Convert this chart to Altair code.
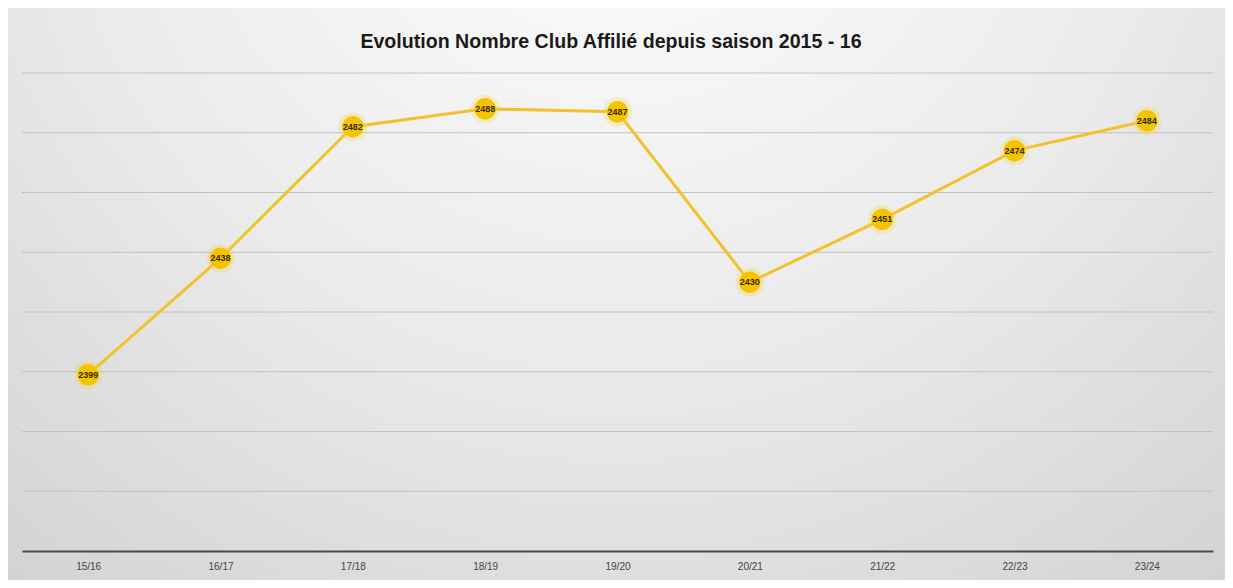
import altair as alt
import pandas as pd

seasons = ["15/16", "16/17", "17/18", "18/19", "19/20", "20/21", "21/22", "22/23", "23/24"]
clubs = [2399, 2438, 2482, 2488, 2487, 2430, 2451, 2474, 2484]
grid_values = [2360, 2380, 2400, 2420, 2440, 2460, 2480, 2500]
title_text = "Evolution Nombre Club Affilié depuis saison 2015 - 16"

df = pd.DataFrame({"saison": seasons, "clubs": clubs})
grid_df = pd.DataFrame({"v": grid_values})
one_df = pd.DataFrame({"k": [0]})

W, H = 1191, 478
PAD = {"left": 14, "top": 65, "right": 12, "bottom": 29}

x_enc = alt.X("saison:N", sort=seasons, title=None,
              scale=alt.Scale(type="point", padding=0.5),
              axis=alt.Axis(labelAngle=0, ticks=False, domainColor="#4a4a4a", domainWidth=2,
                            labelColor="#444444", labelFontSize=10, labelPadding=10,
                            labelFont="Liberation Sans", zindex=1, grid=False))
y_scale = alt.Scale(domain=[2340, 2500], nice=False, zero=False)
y_enc = alt.Y("clubs:Q", scale=y_scale, axis=None)

bg = alt.Chart(one_df).mark_rect(
    color=alt.RadialGradient(
        gradient="radial", x1=0.5, y1=0.1, x2=0.5, y2=0.1, r1=0, r2=1.0,
        stops=[alt.GradientStop(offset=0, color="#ffffff"),
               alt.GradientStop(offset=0.45, color="#ebebeb"),
               alt.GradientStop(offset=1, color="#c6c6c6")]
    )
).encode(
    x=alt.value(-PAD["left"]), x2=alt.value(W + PAD["right"]),
    y=alt.value(-PAD["top"]), y2=alt.value(H + PAD["bottom"])
)

title = alt.Chart(one_df).mark_text(
    fontSize=19.6, fontWeight="bold", font="Liberation Sans", color="#1a1a1a",
    align="center", baseline="middle"
).encode(x=alt.value(589), y=alt.value(-31), text=alt.value(title_text))

grid = alt.Chart(grid_df).mark_rule(color="#c2c2c2", strokeWidth=1).encode(
    y=alt.Y("v:Q", scale=y_scale, axis=None),
    x=alt.value(0), x2=alt.value(W)
)

line = alt.Chart(df).mark_line(color="#F2C22E", strokeWidth=3).encode(x=x_enc, y=y_enc)
halo = alt.Chart(df).mark_circle(color="#F7D23A", size=850, opacity=0.25).encode(x=x_enc, y=y_enc)
pts = alt.Chart(df).mark_circle(color="#F5C400", size=460, opacity=1).encode(x=x_enc, y=y_enc)
labels = alt.Chart(df).mark_text(fontSize=9, fontWeight="bold", color="#3a2c00",
                                 font="Liberation Sans").encode(
    x=x_enc, y=y_enc, text=alt.Text("clubs:Q", format="d"))

chart = alt.layer(bg, title, grid, line, halo, pts, labels).properties(
    width=W, height=H,
    autosize=alt.AutoSizeParams(type="none"),
    padding=PAD
).configure_view(stroke=None).configure(background="#ffffff")

chart.save("out.html", embed_options={"renderer": "svg", "actions": False})
